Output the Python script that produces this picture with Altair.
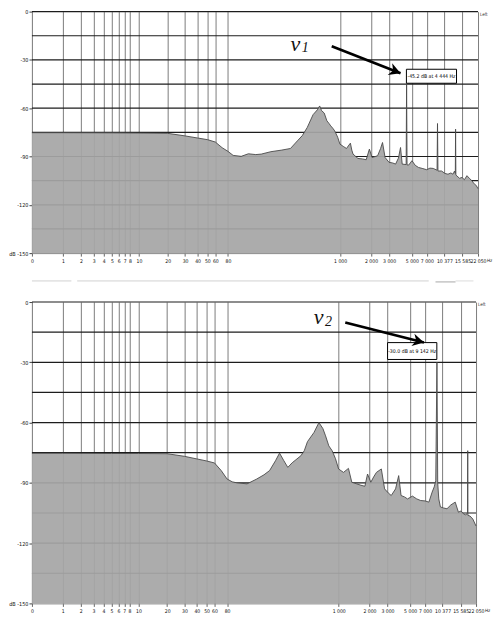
import altair as alt
import pandas as pd

# ---------------- data ----------------
freq_top = [0, 1, 5, 10, 20, 30, 40, 50, 60, 70, 80, 90, 108, 127, 150, 170, 211, 270, 328, 383,
            428, 478, 545, 600, 632, 660, 700, 743, 780, 811, 850, 886, 947, 996, 1073, 1154, 1200,
            1260, 1300, 1337, 1493, 1650, 1795, 1929, 2047, 2200, 2321, 2480, 2590, 2743, 2997, 3250,
            3473, 3700, 3879, 4027, 4400, 4444, 4490, 4656, 5012, 5400, 5804, 6400, 6982, 7500, 8070,
            8800, 8888, 8980, 9727, 10500, 11245, 12000, 12560, 13030, 13250, 13332, 13420, 14550,
            15400, 16250, 17200, 18120, 19200, 20230, 21200, 22050]
db_top = [-75.2, -75.2, -75.3, -75.4, -75.6, -77.2, -78.5, -79.5, -81, -84.5, -86.8, -89.3, -89.9,
          -88.3, -88.8, -88.5, -87, -86, -85, -80.3, -77, -72, -64, -61, -58.6, -61.5, -63, -67.8,
          -69.5, -71, -72.5, -74.1, -78, -82.3, -83.7, -85, -83.5, -81.7, -86, -88.5, -91.2, -91.5,
          -92, -85.4, -90.6, -90, -89.5, -85, -81.3, -90.6, -93.6, -94, -94.7, -91, -84.4, -94.7,
          -95, -45.2, -95.2, -95.3, -92.6, -95.5, -96.8, -97.5, -98.2, -97.2, -97.4, -98.5, -69.5,
          -99, -99, -100.5, -101, -100.2, -101, -99, -100.5, -73, -101.5, -103.5, -103, -104.4,
          -101.9, -103.5, -105, -107, -108, -110]

freq_bot = [0, 1, 5, 10, 20, 30, 40, 50, 60, 70, 80, 90, 100, 126, 157, 185, 210, 240, 263, 290,
            317, 350, 381, 426, 460, 494, 573, 640, 700, 743, 800, 862, 930, 997, 1114, 1245, 1343,
            1500, 1650, 1803, 1915, 2061, 2200, 2339, 2612, 2812, 3050, 3266, 3600, 3862, 4074, 4400,
            4710, 5270, 5800, 6341, 7000, 7624, 8205, 8600, 8900, 9142, 9300, 9525, 9886, 10600,
            11460, 12500, 13800, 14830, 15700, 16600, 17500, 18200, 18284, 18370, 19240, 20500, 22050]
db_bot = [-75.3, -75.3, -75.4, -75.4, -75.5, -76.8, -78.1, -79.1, -80.1, -83.9, -88.1, -89.5, -90,
          -90.5, -88.1, -86, -83.9, -79, -75.2, -79, -82.3, -80, -78.5, -76.5, -74, -69.5, -64.9,
          -60, -63, -66.6, -71.6, -74, -78, -83.1, -84.8, -82.8, -89.7, -90.5, -91.2, -91.7, -85.6,
          -89.7, -87, -84.8, -83.1, -93, -95, -96.3, -93, -86.4, -96.3, -97, -98, -96.6, -98, -98.8,
          -99, -99.6, -94.6, -92, -89, -30, -90, -98, -102, -102.5, -102.9, -101, -99.6, -104.6,
          -104, -105.4, -106, -105, -74, -106.2, -106.5, -108, -111.5]

x_tick_values = [0, 1, 2, 3, 4, 5, 6, 7, 8, 10, 20, 30, 40, 50, 60, 80,
                 1000, 2000, 3000, 5000, 7000, 10377, 15585, 22050]
x_tick_labels = ["0", "1", "2", "3", "4", "5", "6", "7", "8", "10", "20", "30", "40", "50", "60", "80",
                 "1 000", "2 000", "3 000", "5 000", "7 000", "10 377", "15 585", "22 050"]
y_tick_values = [0, -30, -60, -90, -120, -150]
y_tick_labels = ["0", "-30", "-60", "-90", "-120", "dB -150"]
h_grid_db = [0, -15, -30, -45, -60, -75, -90, -105, -120, -135]

# annotations: [top panel, bottom panel]
marker_labels = ["-45.2 dB at 4 444 Hz", "-30.0 dB at 9 142 Hz"]
box_f1 = [4426, 3006]
box_f2 = [13614, 9120]
box_db1 = [-35.8, -20.2]
box_db2 = [-44.5, -28.6]
box_text_f = [7762, 5234]
box_text_db = [-40.2, -24.4]
arrow_f_start = [829, 1158]
arrow_db_start = [-21.5, -10.2]
arrow_f_end = [3880, 6826]
arrow_db_end = [-38.3, -20.2]
letter = ["v", "v"]
letter_f = [366, 634]
letter_db = [-20.3, -7.3]
subscript = ["1", "2"]
sub_f = [457, 794]
sub_db = [-22.3, -9.8]

# faint separator strip above the lower panel
sep_f_start = [0, 1.77, 8850, 13900]
sep_f_end = [1.43, 7600, 13900, 20800]
sep_db = [10.5, 10.5, 10.0, 10.5]
sep_color = ["#d2d2d2", "#d2d2d2", "#a8a8a8", "#dcdcdc"]

# ---------------- chart ----------------
FONT = "DejaVu Sans Condensed, DejaVu Sans, sans-serif"
SERIF = "Liberation Serif, DejaVu Serif, serif"


def arr(vals, quote):
    if quote:
        return "[" + ",".join("'" + v + "'" for v in vals) + "]"
    return "[" + ",".join(str(v) for v in vals) + "]"


x_label_expr = arr(x_tick_labels, True) + "[indexof(" + arr(x_tick_values, False) + ", datum.value)]"
y_label_expr = arr(y_tick_labels, True) + "[indexof(" + arr(y_tick_values, False) + ", datum.value)]"

x_scale = alt.Scale(type="symlog", constant=1, domain=[0, 22050], nice=False)
y_scale = alt.Scale(domain=[-150, 0], nice=False)

x_axis = alt.Axis(values=x_tick_values, labelExpr=x_label_expr, grid=True, gridColor="#7c7c7c",
                  gridWidth=1, gridOpacity=1, labelFont=FONT, labelFontSize=5.1, labelColor="#111",
                  tickSize=3, tickColor="#666", domainColor="#888", labelOverlap=False,
                  labelFlush=False, labelPadding=2, minExtent=0)
y_axis = alt.Axis(values=y_tick_values, labelExpr=y_label_expr, grid=False, labelFont=FONT,
                  labelFontSize=5.5, labelColor="#111", tickSize=3, tickColor="#444",
                  domainColor="#888", labelFlush=False, labelOverlap=False, labelPadding=1,
                  minExtent=22, maxExtent=22)


def X(field):
    return alt.X(field + ":Q", scale=x_scale, axis=x_axis, title=None)


def Y(field):
    return alt.Y(field + ":Q", scale=y_scale, axis=y_axis, title=None)


def panel(i, freqs, dbs, width, height, sep=False):
    spec = pd.DataFrame({"f": freqs, "db": dbs})
    grid = pd.DataFrame({"db": h_grid_db})
    ann = pd.DataFrame({
        "f": [arrow_f_start[i]], "db": [arrow_db_start[i]],
        "fe": [arrow_f_end[i]], "dbe": [arrow_db_end[i]],
    })
    head = pd.DataFrame({"f": [arrow_f_end[i]], "db": [arrow_db_end[i]]})
    box = pd.DataFrame({"f": [box_f1[i]], "fe": [box_f2[i]], "db": [box_db1[i]], "dbe": [box_db2[i]]})
    btext = pd.DataFrame({"f": [box_text_f[i]], "db": [box_text_db[i]], "t": [marker_labels[i]]})
    ltext = pd.DataFrame({"f": [letter_f[i]], "db": [letter_db[i]], "t": [letter[i]]})
    stext = pd.DataFrame({"f": [sub_f[i]], "db": [sub_db[i]], "t": [subscript[i]]})
    left_t = pd.DataFrame({"f": [22050], "db": [0], "t": ["Left"]})
    hz_t = pd.DataFrame({"f": [22050], "db": [-150], "t": ["Hz"]})

    layers = []
    layers.append(alt.Chart(grid).mark_rule(color="#1c1c1c", strokeWidth=1.2).encode(y=Y("db")))
    layers.append(alt.Chart(spec).mark_area(color="#a6a6a6", opacity=0.93).encode(
        x=X("f"), y=Y("db"), y2=alt.datum(-150)))
    layers.append(alt.Chart(spec).mark_line(color="#4a4a4a", strokeWidth=0.9).encode(
        x=X("f"), y=Y("db")))
    layers.append(alt.Chart(box).mark_rect(fill="white", stroke="black", strokeWidth=1).encode(
        x=X("f"), x2="fe:Q", y=Y("db"), y2="dbe:Q"))
    layers.append(alt.Chart(btext).mark_text(font=FONT, fontSize=5.2, color="black").encode(
        x=X("f"), y=Y("db"), text="t:N"))
    layers.append(alt.Chart(ann).mark_rule(color="black", strokeWidth=2.6).encode(
        x=X("f"), x2="fe:Q", y=Y("db"), y2="dbe:Q"))
    layers.append(alt.Chart(head).mark_point(
        shape="M0,0 L-1,-0.55 L-0.7,0 L-1,0.55 Z", size=520, filled=True, color="black",
        opacity=1, angle=21 if i == 0 else 14).encode(x=X("f"), y=Y("db")))
    layers.append(alt.Chart(ltext).mark_text(font=SERIF, fontSize=22, fontStyle="italic",
                                             color="#111").encode(x=X("f"), y=Y("db"), text="t:N"))
    layers.append(alt.Chart(stext).mark_text(font=SERIF, fontSize=14, fontStyle="italic",
                                             color="#111").encode(x=X("f"), y=Y("db"), text="t:N"))
    layers.append(alt.Chart(left_t).mark_text(font=FONT, fontSize=4.5, color="#333", align="left",
                                              dx=2, dy=3).encode(x=X("f"), y=Y("db"), text="t:N"))
    layers.append(alt.Chart(hz_t).mark_text(font=FONT, fontSize=4.6, color="#111", align="left",
                                            dx=9, dy=8).encode(x=X("f"), y=Y("db"), text="t:N"))
    if sep:
        sdf = pd.DataFrame({"f": sep_f_start, "fe": sep_f_end, "db": sep_db, "c": sep_color})
        layers.append(alt.Chart(sdf).mark_rule(strokeWidth=1).encode(
            x=X("f"), x2="fe:Q", y=Y("db"), color=alt.Color("c:N", scale=None)))
    return alt.layer(*layers).properties(width=width, height=height)


p1 = panel(0, freq_top, db_top, 447, 242)
p2 = panel(1, freq_bot, db_bot, 445, 302, sep=True)

chart = alt.vconcat(p1, p2, spacing=16).properties(
    padding={"left": 0, "top": 1, "right": 0, "bottom": 0}, background="white"
).configure_view(stroke=None)

chart.save("out.html", embed_options={"renderer": "svg", "actions": False})
